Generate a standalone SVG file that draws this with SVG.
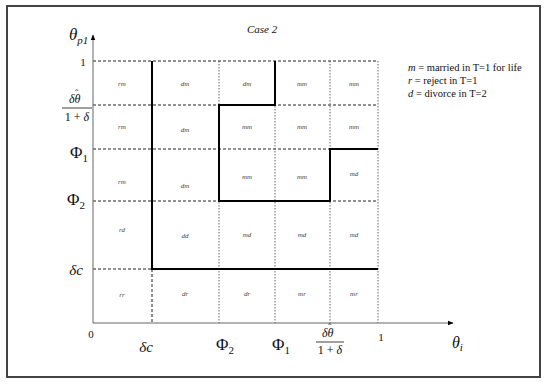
<svg xmlns="http://www.w3.org/2000/svg" width="550" height="386" viewBox="0 0 550 386">
<style>
text{font-family:"Liberation Serif","DejaVu Serif","Times New Roman",serif}
.cell{font-style:italic;font-size:7px;fill:#444;text-anchor:middle}
.math{fill:#111}
.it{font-style:italic}
.hd{stroke:#222;stroke-width:1;stroke-dasharray:3,2;fill:none}
.vd{stroke:#555;stroke-width:0.9;stroke-dasharray:1.5,1.5;fill:none}
.thick{stroke:#000;stroke-width:2;fill:none}
.ax{stroke:#666;stroke-width:1;fill:none}
.leg{font-size:10.5px;fill:#111}
</style>
<defs>
<marker id="arr" viewBox="0 0 10 10" refX="9" refY="5" markerWidth="6" markerHeight="6" orient="auto">
<path d="M0,1 L10,5 L0,9 z" fill="#000"/>
</marker>
</defs>
<rect x="7" y="6" width="533" height="371" fill="#fff" stroke="#444" stroke-width="2"/>
<text x="262" y="33" font-style="italic" font-size="11" text-anchor="middle" fill="#111">Case 2</text>
<g id="grid">
<path class="hd" d="M93,61H378 M93,105H378 M93,149H378 M93,201H378 M93,269H378"/>
<path class="vd" d="M219,61V323 M275,61V323 M330,61V323 M378,61V323"/>
<path class="hd" d="M152,269V323"/>
</g>
<g id="axes">
<path class="ax" d="M93,323V35" marker-end="url(#arr)"/>
<path class="ax" d="M93,323H453" marker-end="url(#arr)"/>
</g>
<g id="boundaries">
<path class="thick" d="M152,61V269H378"/>
<path class="thick" d="M275,61V105H219V201H330V149H378"/>
</g>
<g id="cells">
<text class="cell" x="122" y="86">rm</text><text class="cell" x="185" y="86">dm</text><text class="cell" x="247" y="86">dm</text><text class="cell" x="302" y="86">mm</text><text class="cell" x="354" y="86">mm</text>
<text class="cell" x="122" y="129">rm</text><text class="cell" x="185" y="132">dm</text><text class="cell" x="247" y="129">mm</text><text class="cell" x="302" y="129">mm</text><text class="cell" x="354" y="129">mm</text>
<text class="cell" x="122" y="184">rm</text><text class="cell" x="185" y="188">dm</text><text class="cell" x="247" y="179">mm</text><text class="cell" x="302" y="179">mm</text><text class="cell" x="354" y="176">md</text>
<text class="cell" x="122" y="232">rd</text><text class="cell" x="185" y="238">dd</text><text class="cell" x="247" y="237">md</text><text class="cell" x="302" y="237">md</text><text class="cell" x="354" y="237">md</text>
<text class="cell" x="122" y="297">rr</text><text class="cell" x="185" y="296">dr</text><text class="cell" x="247" y="296">dr</text><text class="cell" x="302" y="296">mr</text><text class="cell" x="354" y="296">mr</text>
</g>
<g id="ylabels">
<text class="math it" x="69" y="40" font-size="17">θ<tspan font-size="11" dy="4">p1</tspan></text>
<text class="math" x="83" y="66" font-size="11" text-anchor="middle">1</text>
<text class="math it" x="69" y="103" font-size="12">δθ<tspan font-style="normal" font-size="10" dx="-5.5" dy="-6">ˆ</tspan></text>
<line x1="62" y1="108" x2="92" y2="108" stroke="#111" stroke-width="0.8"/>
<text class="math" x="77" y="121" font-size="12" text-anchor="middle">1 + <tspan class="it">δ</tspan></text>
<text class="math" x="70" y="158" font-size="17">Φ<tspan font-size="11" dy="4">1</tspan></text>
<text class="math" x="67" y="205" font-size="17">Φ<tspan font-size="11" dy="4">2</tspan></text>
<text class="math it" x="76" y="275" font-size="15" text-anchor="middle">δc</text>
</g>
<g id="xlabels">
<text class="math" x="91" y="338" font-size="11" text-anchor="middle">0</text>
<text class="math it" x="146" y="352" font-size="15" text-anchor="middle">δc</text>
<text class="math" x="216" y="350" font-size="17">Φ<tspan font-size="11" dy="4">2</tspan></text>
<text class="math" x="272" y="350" font-size="17">Φ<tspan font-size="11" dy="4">1</tspan></text>
<text class="math it" x="322" y="337" font-size="12">δθ<tspan font-style="normal" font-size="10" dx="-5.5" dy="-6">ˆ</tspan></text>
<line x1="316" y1="342" x2="344" y2="342" stroke="#111" stroke-width="0.8"/>
<text class="math" x="330" y="354" font-size="12" text-anchor="middle">1 + <tspan class="it">δ</tspan></text>
<text class="math" x="381" y="341" font-size="11" text-anchor="middle">1</text>
<text class="math it" x="452" y="348" font-size="16">θ<tspan font-size="11" dy="3">i</tspan></text>
</g>
<g id="legend">
<text class="leg" x="408" y="71"><tspan font-style="italic">m</tspan> = married in T=1 for life</text>
<text class="leg" x="408" y="84"><tspan font-style="italic">r</tspan> = reject in T=1</text>
<text class="leg" x="408" y="97"><tspan font-style="italic">d</tspan> = divorce in T=2</text>
</g>
</svg>
